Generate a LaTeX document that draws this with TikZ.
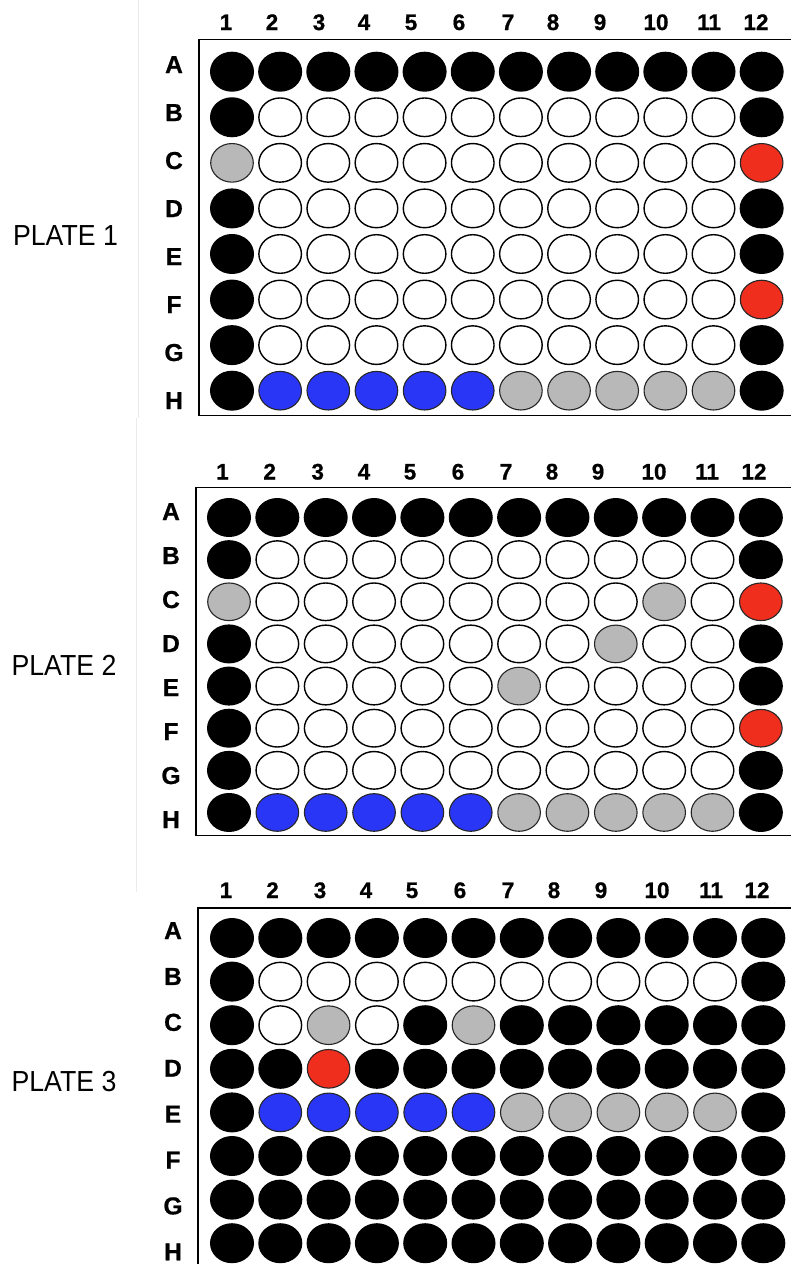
\documentclass[tikz,border=0pt]{standalone}
\usepackage{fontspec}
\setmainfont{Liberation Sans}
\newfontfamily\heavyfont[FakeBold=0.8]{Liberation Sans Bold}
\usetikzlibrary{shapes.geometric}
\definecolor{wellgray}{HTML}{B8B8B8}
\definecolor{wellblue}{HTML}{2A36F6}
\definecolor{wellred}{HTML}{EF2E1E}
\newcommand\wellrow[4]{%
  \foreach \c [count=\ci] in {#4} {
    \node[well,w\c] (#1-#2\ci) at ({\px+(\ci-1)*\pdx}, {\py+#3*\pdy}) {};
  }%
}
\newcommand\collabels[3]{% id, baseline y, x positions
  \foreach \lx [count=\li] in {#3} {
    \node[collab] (#1-c\li) at (\lx, #2) {\li};
  }%
}
\begin{document}
\begin{tikzpicture}[x=1pt,y=-1pt,
  well/.style={ellipse, minimum width=42.6pt, minimum height=38.6pt, inner sep=0pt, line width=1.4pt},
  wk/.style={fill=black, draw=black},
  ww/.style={fill=white, draw=black},
  wg/.style={fill=wellgray, draw=black!85, line width=1.1pt},
  wb/.style={fill=wellblue, draw=black!85, line width=1.1pt},
  wr/.style={fill=wellred, draw=black!85, line width=1.1pt},
  frame/.style={draw=black, line width=1.8pt},
  collab/.style={font=\heavyfont\fontsize{22.5}{22.5}\selectfont, inner sep=0pt, anchor=base},
  rowlab/.style={font=\heavyfont\fontsize{24.5}{24.5}\selectfont, inner sep=0pt, anchor=base},
  platelab/.style={font=\fontsize{29}{29}\selectfont, inner sep=0pt, xscale=0.92, anchor=base},
  artifact/.style={draw=black!8, line width=1pt}
]
\clip (0,0) rectangle (791,1264);
\fill[white] (0,0) rectangle (791,1264);

% faint page edges
\draw[artifact] (138,0) -- (138,418);
\draw[artifact] (136,418) -- (136,892);

% ---------------- PLATE 1 ----------------
\node[platelab] (pl1) at (65.5,245) {PLATE 1};
\draw[frame] (199,39.5) rectangle (820,415.5);
\collabels{p1}{30}{226,272,319,364,411,459,508,553,600,656,709,756}
\foreach \r [count=\ri from 0] in {A,B,C,D,E,F,G,H}
  \node[rowlab] (p1-r\r) at (174,{73+\ri*48}) {\r};
\def\px{232}\def\pdx{48.15}\def\py{71.7}\def\pdy{45.57}
\wellrow{p1}{A}{0}{k,k,k,k,k,k,k,k,k,k,k,k}
\wellrow{p1}{B}{1}{k,w,w,w,w,w,w,w,w,w,w,k}
\wellrow{p1}{C}{2}{g,w,w,w,w,w,w,w,w,w,w,r}
\wellrow{p1}{D}{3}{k,w,w,w,w,w,w,w,w,w,w,k}
\wellrow{p1}{E}{4}{k,w,w,w,w,w,w,w,w,w,w,k}
\wellrow{p1}{F}{5}{k,w,w,w,w,w,w,w,w,w,w,r}
\wellrow{p1}{G}{6}{k,w,w,w,w,w,w,w,w,w,w,k}
\wellrow{p1}{H}{7}{k,b,b,b,b,b,g,g,g,g,g,k}

% ---------------- PLATE 2 ----------------
\node[platelab] (pl2) at (64,675) {PLATE 2};
\draw[frame] (196,487.5) rectangle (820,835.5);
\collabels{p2}{479.5}{222.5,269.7,317.7,364,410,458,506,552,598,654,707,754}
\foreach \r [count=\ri from 0] in {A,B,C,D,E,F,G,H}
  \node[rowlab] (p2-r\r) at (171,{520+\ri*44}) {\r};
\tikzset{well/.append style={minimum height=37.6pt}}
\def\px{229}\def\pdx{48.35}\def\py{517.5}\def\pdy{42.14}
\wellrow{p2}{A}{0}{k,k,k,k,k,k,k,k,k,k,k,k}
\wellrow{p2}{B}{1}{k,w,w,w,w,w,w,w,w,w,w,k}
\wellrow{p2}{C}{2}{g,w,w,w,w,w,w,w,w,g,w,r}
\wellrow{p2}{D}{3}{k,w,w,w,w,w,w,w,g,w,w,k}
\wellrow{p2}{E}{4}{k,w,w,w,w,w,g,w,w,w,w,k}
\wellrow{p2}{F}{5}{k,w,w,w,w,w,w,w,w,w,w,r}
\wellrow{p2}{G}{6}{k,w,w,w,w,w,w,w,w,w,w,k}
\wellrow{p2}{H}{7}{k,b,b,b,b,b,g,g,g,g,g,k}

% ---------------- PLATE 3 ----------------
\node[platelab] (pl3) at (64,1091) {PLATE 3};
\draw[frame] (198,1300) -- (198,907.7) -- (820,907.7);
\collabels{p3}{898}{226,272.5,320,366,412,460,508,554,601,657,711,757}
\foreach \r [count=\ri from 0] in {A,B,C,D,E,F,G,H}
  \node[rowlab] (p3-r\r) at (173,{939+\ri*45.9}) {\r};
\tikzset{well/.append style={minimum height=38.6pt}}
\def\px{232}\def\pdx{48.3}\def\py{938}\def\pdy{43.6}
\wellrow{p3}{A}{0}{k,k,k,k,k,k,k,k,k,k,k,k}
\wellrow{p3}{B}{1}{k,w,w,w,w,w,w,w,w,w,w,k}
\wellrow{p3}{C}{2}{k,w,g,w,k,g,k,k,k,k,k,k}
\wellrow{p3}{D}{3}{k,k,r,k,k,k,k,k,k,k,k,k}
\wellrow{p3}{E}{4}{k,b,b,b,b,b,g,g,g,g,g,k}
\wellrow{p3}{F}{5}{k,k,k,k,k,k,k,k,k,k,k,k}
\wellrow{p3}{G}{6}{k,k,k,k,k,k,k,k,k,k,k,k}
\wellrow{p3}{H}{7}{k,k,k,k,k,k,k,k,k,k,k,k}
\end{tikzpicture}
\end{document}
